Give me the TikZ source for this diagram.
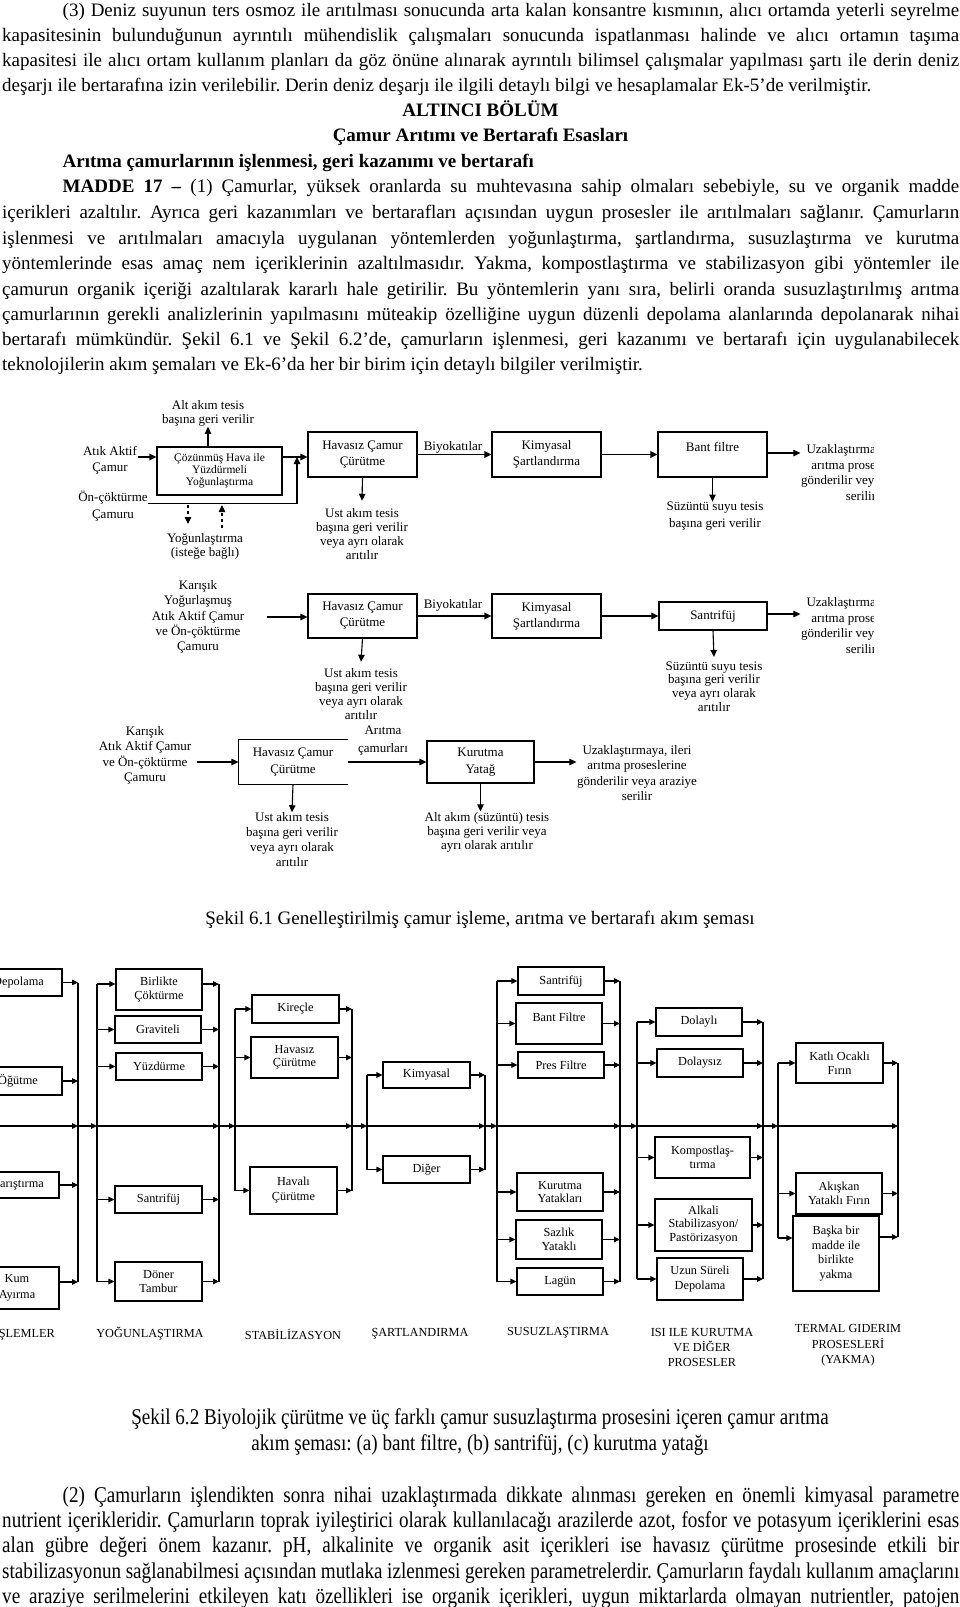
\documentclass[tikz,border=0pt]{standalone}
\usepackage{fontspec}
\setmainfont{Liberation Serif}
\newfontfamily\condfont[FakeStretch=0.85]{Liberation Serif}
\usetikzlibrary{arrows.meta}
\newcommand\FontBody{\fontsize{19}{24}\selectfont}
\newcommand\FontCond{\condfont\fontsize{22.5}{25}\selectfont}
\newcommand\FontFigA{\fontsize{13}{15}\selectfont}
\newcommand\FontFigSm{\fontsize{11.5}{12}\selectfont}
\newcommand\FontFigB{\fontsize{12.3}{13.5}\selectfont}
\newcommand\JL[2]{\makebox[#1][s]{#2}}
\begin{document}
\frenchspacing
\begin{tikzpicture}[x=1pt,y=-1pt,
  tl/.style={anchor=base west,inner sep=0pt,font=\FontBody},
  tc/.style={anchor=base,inner sep=0pt,font=\FontBody},
  bl/.style={anchor=base west,inner sep=0pt,font=\FontCond},
  bc/.style={anchor=base,inner sep=0pt,font=\FontCond},
  fbox/.style={draw,line width=1.1pt,inner sep=0pt,align=center,font={\fontsize{13}{16}\selectfont}},
  flab/.style={inner sep=0.5pt,align=center,font=\FontFigA},
  aone/.style={line width=1.1pt,-{Triangle[length=7pt,width=6.5pt]}},
  dashar/.style={line width=1.1pt,dash pattern=on 3pt off 3pt,-{Triangle[length=7pt,width=6.5pt]}},
  btwo/.style={draw,line width=1.1pt,inner sep=0pt,align=center,font=\FontFigB},
  atwo/.style={line width=1.1pt,-{Triangle[length=6pt,width=5.5pt]}},
  ltwo/.style={line width=1.1pt},
  lthick/.style={line width=1.9pt},
  labtwo/.style={inner sep=0pt,align=center,font=\FontFigB}
]
\useasboundingbox (0,0) rectangle (960,1607);
\fill[white] (0,0) rectangle (960,1607);
\clip (0,0) rectangle (960,1607);

% ---------------- body text (top) ----------------
\node[tl] (t1) at (62.5,16.5) {\JL{896.5pt}{(3) Deniz suyunun ters osmoz ile arıtılması sonucunda arta kalan konsantre kısmının, alıcı ortamda yeterli seyrelme}};
\node[tl] (t2) at (2,41) {\JL{957pt}{kapasitesinin bulunduğunun ayrıntılı mühendislik çalışmaları sonucunda ispatlanması halinde ve alıcı ortamın taşıma}};
\node[tl] (t3) at (2,66.5) {\JL{957pt}{kapasitesi ile alıcı ortam kullanım planları da göz önüne alınarak ayrıntılı bilimsel çalışmalar yapılması şartı ile derin deniz}};
\node[tl] (t4) at (2,91.5) {deşarjı ile bertarafına izin verilebilir. Derin deniz deşarjı ile ilgili detaylı bilgi ve hesaplamalar Ek-5’de verilmiştir.};
\node[tc] (t5) at (480.5,116) {\textbf{ALTINCI BÖLÜM}};
\node[tc] (t6) at (480.5,141.5) {\textbf{Çamur Arıtımı ve Bertarafı Esasları}};
\node[tl] (t7) at (62.5,167) {\textbf{Arıtma çamurlarının işlenmesi, geri kazanımı ve bertarafı}};
\node[tl] (t8) at (62.5,192.5) {\JL{896.5pt}{\textbf{MADDE 17 –} (1) Çamurlar, yüksek oranlarda su muhtevasına sahip olmaları sebebiyle, su ve organik madde}};
\node[tl] (t9) at (2,218) {\JL{957pt}{içerikleri azaltılır. Ayrıca geri kazanımları ve bertarafları açısından uygun prosesler ile arıtılmaları sağlanır. Çamurların}};
\node[tl] (t10) at (2,244) {\JL{957pt}{işlenmesi ve arıtılmaları amacıyla uygulanan yöntemlerden yoğunlaştırma, şartlandırma, susuzlaştırma ve kurutma}};
\node[tl] (t11) at (2,269.5) {\JL{957pt}{yöntemlerinde esas amaç nem içeriklerinin azaltılmasıdır. Yakma, kompostlaştırma ve stabilizasyon gibi yöntemler ile}};
\node[tl] (t12) at (2,295) {\JL{957pt}{çamurun organik içeriği azaltılarak kararlı hale getirilir. Bu yöntemlerin yanı sıra, belirli oranda susuzlaştırılmış arıtma}};
\node[tl] (t13) at (2,320) {\JL{957pt}{çamurlarının gerekli analizlerinin yapılmasını müteakip özelliğine uygun düzenli depolama alanlarında depolanarak nihai}};
\node[tl] (t14) at (2,345.5) {\JL{957pt}{bertarafı mümkündür. Şekil 6.1 ve Şekil 6.2’de, çamurların işlenmesi, geri kazanımı ve bertarafı için uygulanabilecek}};
\node[tl] (t15) at (2,370.5) {teknolojilerin akım şemaları ve Ek-6’da her bir birim için detaylı bilgiler verilmiştir.};

% ---------------- Figure 6.1, row 1 ----------------
\node[fbox,minimum width=125pt,minimum height=48pt,font=\FontFigSm] (n11) at (219.5,471) {Çözünmüş Hava ile\\Yüzdürmeli\\Yoğunlaştırma};
\node[flab,font={\fontsize{13}{13.5}\selectfont}] (l11) at (208,413.5) {Alt akım tesis\\başına geri verilir};
\draw[aone] (n11.north -| l11) -- (l11.south);
\node[flab,font={\fontsize{13}{16}\selectfont}] (l12) at (110,460) {Atık Aktif\\Çamur};
\coordinate (p12) at ([yshift=3pt]l12.east);
\draw[aone] (p12) -- (p12 -| n11.west);
\node[flab,font={\fontsize{13}{17}\selectfont}] (l13) at (113,506.5) {Ön-çöktürme\\Çamuru};
\coordinate (p13) at ([yshift=3pt]l13.east);
\coordinate (j1) at (297,457);
\draw[aone] (p13) -| (j1);
\node[fbox,minimum width=109pt,minimum height=45pt] (n12) at (362.5,454.5) {Havasız Çamur\\Çürütme};
\draw[aone] (n11.east |- j1) -- (n12.west |- j1);
\coordinate (d1s) at (188,505);
\coordinate (d1e) at (188,524);
\coordinate (d2s) at (222,528);
\coordinate (d2e) at (222,505);
\draw[dashar] (d1s) -- (d1e);
\draw[dashar] (d2s) -- (d2e);
\node[flab,font={\fontsize{13}{13.5}\selectfont}] (l14) at (205,546.5) {Yoğunlaştırma\\(isteğe bağlı)};
\node[flab,font={\fontsize{13}{14}\selectfont}] (l15) at (362,534) {Ust akım tesis\\başına geri verilir\\veya ayrı olarak\\arıtılır};
\draw[aone] (n12.south) -- ([yshift=7pt]l15.north);
\node[flab] (l16) at (453,447) {Biyokatılar};
\node[fbox,minimum width=109pt,minimum height=45pt] (n13) at (546.5,454.5) {Kimyasal\\Şartlandırma};
\draw[aone] (n12.east) -- (n13.west);
\node[fbox,minimum width=109pt,minimum height=45pt] (n14) at (712.5,454.5) {Bant filtre\\\mbox{}};
\draw[aone] (n13.east) -- (n14.west);
\node[flab,font={\fontsize{13}{17}\selectfont}] (l17) at (715,516.5) {Süzüntü suyu tesis\\başına geri verilir};
\draw[aone] (n14.south) -- (n14.south |- l17.north);
\begin{scope}
\clip (0,0) rectangle (873,1000);
\node[flab,font={\fontsize{13}{15.5}\selectfont}] (l18) at (861,472.5) {Uzaklaştırmaya, ileri\\arıtma proseslerine\\gönderilir veya araziye\\serilir};
\node[flab,font={\fontsize{13}{15.5}\selectfont}] (l25) at (861,625.5) {Uzaklaştırmaya, ileri\\arıtma proseslerine\\gönderilir veya araziye\\serilir};
\end{scope}
\draw[aone] ([yshift=1.5pt]n14.east) -- ([yshift=1.5pt]n14.east -| l18.west);

% ---------------- Figure 6.1, row 2 ----------------
\node[flab,font={\fontsize{13}{15.3}\selectfont}] (l21) at (198,617) {Karışık\\Yoğurlaşmuş\\Atık Aktif Çamur\\ve Ön-çöktürme\\Çamuru};
\coordinate (p21) at (267,617);
\node[fbox,minimum width=109pt,minimum height=44pt] (n21) at (362.5,616) {Havasız Çamur\\Çürütme};
\draw[aone] (p21) -- (p21 -| n21.west);
\node[flab,font={\fontsize{13}{14}\selectfont}] (l22) at (361,694) {Ust akım tesis\\başına geri verilir\\veya ayrı olarak\\arıtılır};
\draw[aone] (n21.south) -- ([yshift=6pt]l22.north);
\node[flab] (l23) at (453,605) {Biyokatılar};
\node[fbox,minimum width=109pt,minimum height=44pt] (n22) at (546.5,616) {Kimyasal\\Şartlandırma};
\draw[aone] (n21.east) -- (n22.west);
\node[fbox,minimum width=108pt,minimum height=28pt] (n23) at (713,616) {Santrifüj};
\draw[aone] (n22.east) -- (n23.west);
\node[flab,font={\fontsize{13}{13.7}\selectfont}] (l24) at (714,686.5) {Süzüntü suyu tesis\\başına geri verilir\\veya ayrı olarak\\arıtılır};
\draw[aone] (n23.south) -- ([yshift=4pt]l24.north);
\draw[aone] ([yshift=2pt]n23.east) -- ([yshift=2pt]n23.east -| l25.west);

% ---------------- Figure 6.1, row 3 ----------------
\node[flab,font={\fontsize{13}{15.5}\selectfont}] (l31) at (145,755.5) {Karışık\\Atık Aktif Çamur\\ve Ön-çöktürme\\Çamuru};
\coordinate (p31) at (197,762);
\node[fbox,draw=none,minimum width=108pt,minimum height=44pt,font={\fontsize{13}{17}\selectfont}] (n31) at (293,762) {Havasız Çamur\\Çürütme};
\draw[line width=1.1pt] (n31.north east) -- (n31.north west) -- (n31.south west) -- (n31.south east);
\draw[aone] (p31) -- (p31 -| n31.west);
\node[flab,font={\fontsize{13}{15}\selectfont}] (l32) at (292,840) {Ust akım tesis\\başına geri verilir\\veya ayrı olarak\\arıtılır};
\draw[aone] (n31.south) -- (l32.north);
\node[flab,font={\fontsize{13}{18}\selectfont}] (l33) at (383,741) {Arıtma\\çamurları};
\coordinate (p32) at (348,762);
\node[fbox,minimum width=107pt,minimum height=42pt,font={\fontsize{13}{17}\selectfont}] (n32) at (480.5,762) {Kurutma\\Yatağ};
\draw[aone] (p32) -- (p32 -| n32.west);
\node[flab,font={\fontsize{13}{14}\selectfont}] (l34) at (487,832) {Alt akım (süzüntü) tesis\\başına geri verilir veya\\ayrı olarak arıtılır};
\draw[aone] (n32.south) -- (n32.south |- l34.north);
\node[flab,font={\fontsize{13}{15.6}\selectfont}] (l35) at (637,773) {Uzaklaştırmaya, ileri\\arıtma proseslerine\\gönderilir veya araziye\\serilir};
\draw[aone] (n32.east) -- (n32.east -| l35.west);

\node[tc] (cap1) at (480,924) {Şekil 6.1 Genelleştirilmiş çamur işleme, arıtma ve bertarafı akım şeması};

% ---------------- Figure 6.2 ----------------
\coordinate (B1R) at (78,0);
\coordinate (B2L) at (97,0);
\coordinate (B2R) at (219,0);
\coordinate (B3L) at (235,0);
\coordinate (B3R) at (352,0);
\coordinate (B4L) at (367,0);
\coordinate (B4R) at (485,0);
\coordinate (B5L) at (497,0);
\coordinate (B5R) at (620,0);
\coordinate (B6L) at (637,0);
\coordinate (B6R) at (763,0);
\coordinate (B7L) at (778,0);
\coordinate (B7R) at (898,0);
\coordinate (M) at (0,1126);
\coordinate (M0) at (-5,1126);

% column 1
\node[btwo,minimum width=87pt,minimum height=27pt] (c1) at (18.5,982.5) {Depolama};
\node[btwo,minimum width=88pt,minimum height=28pt] (c2) at (18,1081) {Öğütme};
\node[btwo,minimum width=83pt,minimum height=26pt] (c3) at (17.5,1185) {Karıştırma};
\node[btwo,minimum width=84pt,minimum height=42pt,font={\fontsize{12.3}{16}\selectfont}] (c4) at (17,1288) {Kum\\Ayırma};
\coordinate (c4o) at ([yshift=6pt]c4.east);
\draw[atwo] (c1.east) -- (c1.east -| B1R);
\draw[atwo] (c2.east) -- (c2.east -| B1R);
\draw[atwo] (c3.east) -- (c3.east -| B1R);
\draw[atwo] (c4o) -- (c4o -| B1R);
\draw[ltwo] (B1R |- c1.east) -- (B1R |- c4o);
\node[labtwo,anchor=east] (g1) at (55,1334) {ÖN İŞLEMLER};

% column 2
\node[btwo,minimum width=86pt,minimum height=41pt] (y1) at (159,989.5) {Birlikte\\Çöktürme};
\node[btwo,minimum width=86pt,minimum height=27pt] (y2) at (158,1029.5) {Graviteli};
\node[btwo,minimum width=86pt,minimum height=27pt] (y3) at (159,1066.5) {Yüzdürme};
\node[btwo,minimum width=87pt,minimum height=27pt] (y4) at (158.5,1199.5) {Santrifüj};
\node[btwo,minimum width=87pt,minimum height=39pt] (y5) at (158.5,1281.5) {Döner\\Tambur};
\coordinate (y1i) at ([yshift=5.5pt]y1.west);
\coordinate (y1o) at ([yshift=5.5pt]y1.east);
\draw[atwo] (B2L |- y1i) -- (y1i);
\draw[atwo] (B2L |- y2.west) -- (y2.west);
\draw[atwo] (B2L |- y3.west) -- (y3.west);
\draw[atwo] (B2L |- y4.west) -- (y4.west);
\draw[atwo] (B2L |- y5.west) -- (y5.west);
\draw[atwo] (y1o) -- (y1o -| B2R);
\draw[atwo] (y2.east) -- (y2.east -| B2R);
\draw[atwo] (y3.east) -- (y3.east -| B2R);
\draw[atwo] (y4.east) -- (y4.east -| B2R);
\draw[atwo] (y5.east) -- (y5.east -| B2R);
\draw[ltwo] (B2L |- y1i) -- (B2L |- y5.west);
\draw[ltwo] (B2R |- y1o) -- (B2R |- y5.east);
\node[labtwo] (g2) at (150,1334) {YOĞUNLAŞTIRMA};

% column 3
\node[btwo,minimum width=87pt,minimum height=28pt] (s1) at (295.5,1009) {Kireçle};
\node[btwo,minimum width=87pt,minimum height=41pt] (s2) at (294.5,1057.5) {Havasız\\Çürütme};
\node[btwo,minimum width=87pt,minimum height=47pt,font={\fontsize{12.3}{15}\selectfont}] (s3) at (293.5,1190.5) {Havalı\\Çürütme};
\draw[atwo] (B3L |- s1.west) -- (s1.west);
\draw[atwo] (B3L |- s2.west) -- (s2.west);
\draw[atwo] (B3L |- s3.west) -- (s3.west);
\draw[atwo] (s1.east) -- (s1.east -| B3R);
\draw[atwo] (s2.east) -- (s2.east -| B3R);
\draw[atwo] (s3.east) -- (s3.east -| B3R);
\draw[lthick] (B3L |- s1.west) -- (B3L |- s3.west);
\draw[ltwo] (B3R |- s1.east) -- (B3R |- s3.east);
\node[labtwo] (g3) at (293,1334) {STABİLİZASYON};

% column 4
\node[btwo,minimum width=87pt,minimum height=26pt] (k1) at (426.5,1075) {Kimyasal};
\node[btwo,minimum width=87pt,minimum height=27pt] (k2) at (426.5,1169.5) {Diğer};
\draw[atwo] (B4L |- k1.west) -- (k1.west);
\draw[atwo] (B4L |- k2.west) -- (k2.west);
\draw[atwo] (k1.east) -- (k1.east -| B4R);
\draw[atwo] (k2.east) -- (k2.east -| B4R);
\draw[lthick] (B4L |- k1.west) -- (B4L |- k2.west);
\draw[ltwo] (B4R |- k1.east) -- (B4R |- k2.east);
\node[labtwo] (g4) at (420,1334) {ŞARTLANDIRMA};

% column 5
\node[btwo,minimum width=86pt,minimum height=28pt] (u1) at (561,981) {Santrifüj};
\node[btwo,minimum width=86pt,minimum height=41pt] (u2) at (559,1023.5) {Bant Filtre\\\mbox{}};
\node[btwo,minimum width=86pt,minimum height=26pt] (u3) at (561,1065) {Pres Filtre};
\node[btwo,minimum width=86pt,minimum height=38pt] (u4) at (560,1192) {Kurutma\\Yatakları};
\node[btwo,minimum width=86pt,minimum height=39pt] (u5) at (559,1239.5) {Sazlık\\Yataklı};
\node[btwo,minimum width=86pt,minimum height=27pt] (u6) at (560,1281.5) {Lagün};
\foreach \b in {u1,u2,u3,u4,u5,u6}{
  \draw[atwo] (B5L |- \b.west) -- (\b.west);
  \draw[atwo] (\b.east) -- (\b.east -| B5R);
}
\draw[ltwo] (B5L |- u1.west) -- (B5L |- u6.west);
\draw[ltwo] (B5R |- u1.east) -- (B5R |- u6.east);
\node[labtwo] (g5) at (558,1333) {SUSUZLAŞTIRMA};

% column 6
\node[btwo,minimum width=86pt,minimum height=28pt] (d1) at (699,1022) {Dolaylı};
\node[btwo,minimum width=86pt,minimum height=28pt] (d2) at (700,1063) {Dolaysız};
\node[btwo,minimum width=95pt,minimum height=41pt] (d3) at (702.5,1157.5) {Kompostlaş-\\tırma};
\node[btwo,minimum width=97pt,minimum height=52pt] (d4) at (703.5,1225) {Alkali\\Stabilizasyon/\\Pastörizasyon};
\node[btwo,minimum width=86pt,minimum height=42pt,font={\fontsize{12.3}{15.5}\selectfont}] (d5) at (700,1279) {Uzun Süreli\\Depolama};
\foreach \b in {d1,d2,d3,d4,d5}{
  \draw[atwo] (B6L |- \b.west) -- (\b.west);
  \draw[atwo] (\b.east) -- (\b.east -| B6R);
}
\draw[ltwo] (B6L |- d1.west) -- (B6L |- d5.west);
\draw[ltwo] (B6R |- d1.east) -- (B6R |- d5.east);
\node[labtwo,font={\fontsize{12.3}{15}\selectfont}] (g6) at (702,1347) {ISI ILE KURUTMA\\VE DİĞER\\PROSESLER};

% column 7
\node[btwo,minimum width=87pt,minimum height=40pt] (r1) at (839.5,1063) {Katlı Ocaklı\\Fırın};
\node[btwo,minimum width=86pt,minimum height=41pt] (r2) at (839,1193.5) {Akışkan\\Yataklı Fırın};
\node[btwo,minimum width=86pt,minimum height=75pt,font={\fontsize{12.3}{14.5}\selectfont}] (r3) at (836,1253.5) {Başka bir\\madde ile\\birlikte\\yakma};
\coordinate (r3i) at ([yshift=15.5pt]r3.west);
\coordinate (r3o) at ([yshift=16.5pt]r3.east);
\draw[atwo] (B7L |- r1.west) -- (r1.west);
\draw[atwo] (B7L |- r2.west) -- (r2.west);
\draw[atwo] (B7L |- r3i) -- (r3i);
\draw[atwo] (r1.east) -- (r1.east -| B7R);
\draw[atwo] (r2.east) -- (r2.east -| B7R);
\draw[atwo] (r3o) -- (r3o -| B7R);
\draw[ltwo] (B7L |- r1.west) -- (B7L |- r3i);
\draw[lthick] (B7R |- r1.east) -- (B7R |- r3o);
\node[labtwo,font={\fontsize{12.3}{15.5}\selectfont}] (g7) at (848,1345.5) {TERMAL GIDERIM\\PROSESLERİ\\(YAKMA)};

% middle through-line
\draw[atwo] (M0) -- (B1R |- M);
\draw[atwo] (B1R |- M) -- (B2L |- M);
\draw[atwo] (B2L |- M) -- (B2R |- M);
\draw[atwo] (B2R |- M) -- (B3L |- M);
\draw[atwo] (B3L |- M) -- (B3R |- M);
\draw[atwo] (B3R |- M) -- (B4L |- M);
\draw[atwo] (B4L |- M) -- (B4R |- M);
\draw[atwo] (B4R |- M) -- (B5L |- M);
\draw[atwo] (B5L |- M) -- (B5R |- M);
\draw[atwo] (B5R |- M) -- (B6L |- M);
\draw[atwo] (B6L |- M) -- (B6R |- M);
\draw[atwo] (B6R |- M) -- (B7L |- M);
\draw[atwo] (B7L |- M) -- (B7R |- M);

% ---------------- caption 6.2 and bottom text ----------------
\node[bc] (cap2a) at (480,1424) {Şekil 6.2 Biyolojik çürütme ve üç farklı çamur susuzlaştırma prosesini içeren çamur arıtma};
\node[bc] (cap2b) at (480,1450) {akım şeması: (a) bant filtre, (b) santrifüj, (c) kurutma yatağı};

\node[bl] (b1) at (62.5,1502) {\JL{896.5pt}{(2) Çamurların işlendikten sonra nihai uzaklaştırmada dikkate alınması gereken en önemli kimyasal parametre}};
\node[bl] (b2) at (2,1527.5) {\JL{957pt}{nutrient içerikleridir. Çamurların toprak iyileştirici olarak kullanılacağı arazilerde azot, fosfor ve potasyum içeriklerini esas}};
\node[bl] (b3) at (2,1552.5) {\JL{957pt}{alan gübre değeri önem kazanır. pH, alkalinite ve organik asit içerikleri ise havasız çürütme prosesinde etkili bir}};
\node[bl] (b4) at (2,1578) {\JL{957pt}{stabilizasyonun sağlanabilmesi açısından mutlaka izlenmesi gereken parametrelerdir. Çamurların faydalı kullanım amaçlarını}};
\node[bl] (b5) at (2,1603) {\JL{957pt}{ve araziye serilmelerini etkileyen katı özellikleri ise organik içerikleri, uygun miktarlarda olmayan nutrientler, patojen}};
\end{tikzpicture}
\end{document}
